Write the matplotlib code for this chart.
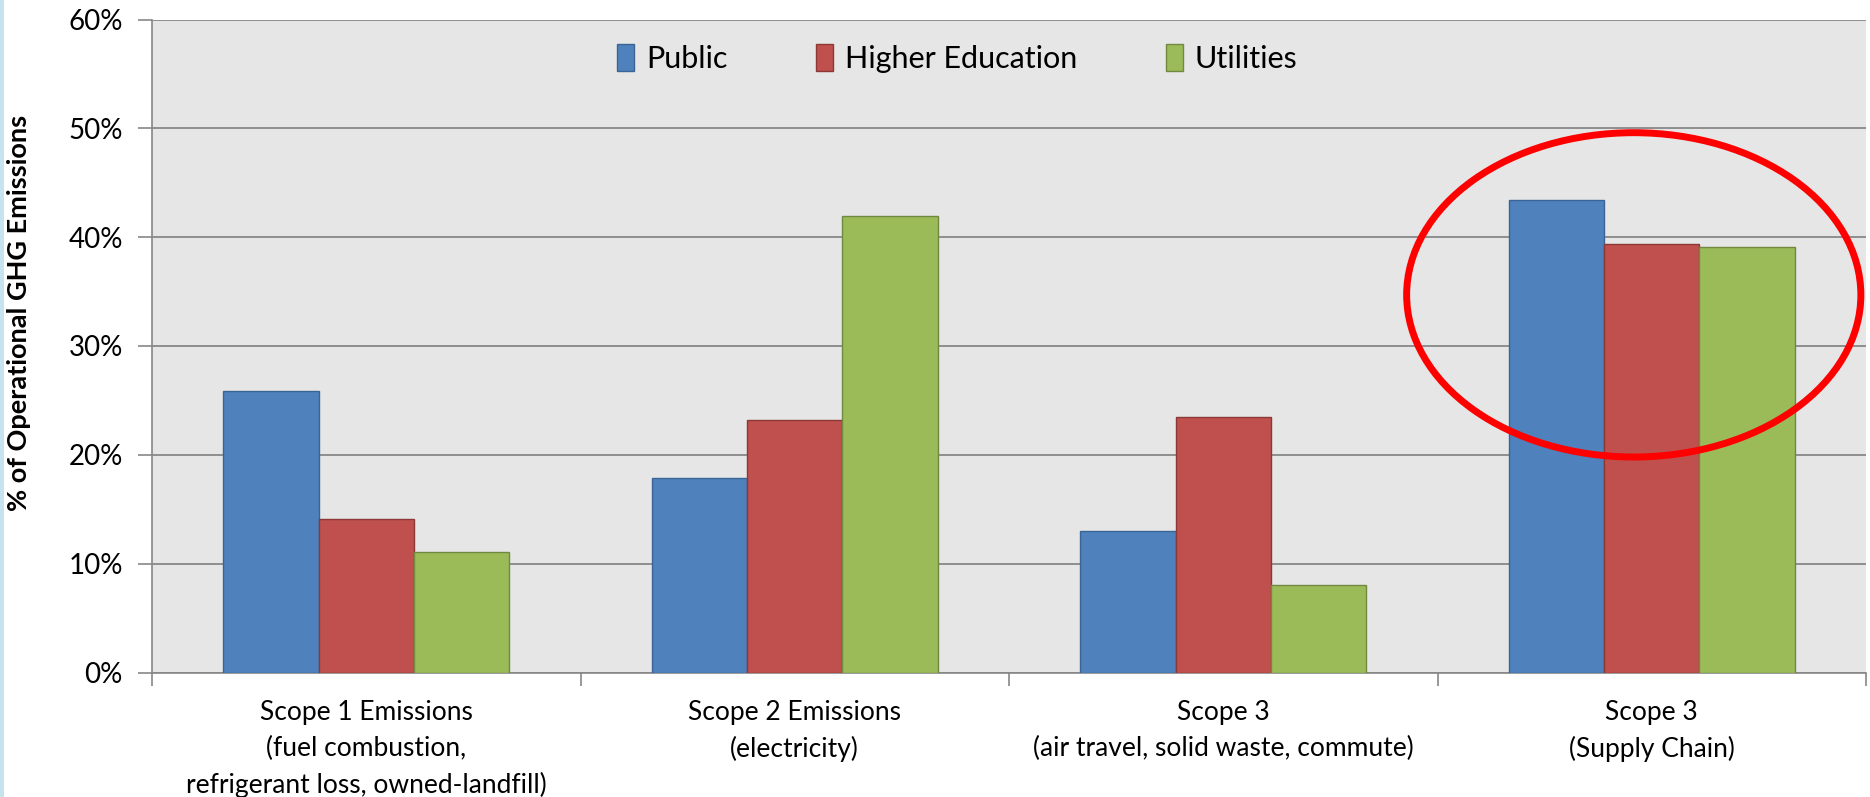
import matplotlib
matplotlib.use("Agg")
import matplotlib.pyplot as plt
from matplotlib.patches import Ellipse, Rectangle
from matplotlib.ticker import FixedLocator, PercentFormatter
import numpy as np

plt.rcParams['font.family'] = ['Lato', 'DejaVu Sans']

categories = [
    "Scope 1 Emissions\n(fuel combustion,\nrefrigerant loss, owned-landfill)",
    "Scope 2 Emissions\n(electricity)",
    "Scope 3\n(air travel, solid waste, commute)",
    "Scope 3\n(Supply Chain)",
]
series_names = ["Public", "Higher Education", "Utilities"]
public = [25.9, 17.9, 13.0, 43.4]
higher_education = [14.1, 23.2, 23.45, 39.4]
utilities = [11.1, 41.9, 8.0, 39.1]
y_ticks = [0, 10, 20, 30, 40, 50, 60]

fills = ["#4f81bd", "#c0504d", "#9bbb59"]
edges = ["#3a6396", "#8c3836", "#71893f"]

W, H = 1870, 797
fig = plt.figure(figsize=(W / 100, H / 100), dpi=100)
fig.patch.set_facecolor("white")
ax = fig.add_axes([152 / W, 1 - 672.5 / H, (1866 - 152) / W, (672.5 - 19.5) / H])
ax.set_facecolor("#e6e6e6")

# thin light-blue strip along the left edge of the slide
fig.patches.append(Rectangle((0, 0), 4 / W, 1, transform=fig.transFigure,
                             facecolor="#c6e4ee", edgecolor="none", zorder=0))

x = np.arange(len(categories))
w = 1 / 4.5
for i, (vals, name) in enumerate(zip([public, higher_education, utilities], series_names)):
    ax.bar(x + (i - 1) * w, vals, width=w, color=fills[i], edgecolor=edges[i],
           linewidth=1.0, label=name, zorder=3)

ax.set_xlim(-0.5, len(categories) - 0.5)
ax.set_ylim(0, 60)
ax.yaxis.set_major_locator(FixedLocator(y_ticks))
ax.yaxis.set_major_formatter(PercentFormatter(decimals=0))
ax.grid(axis="y", color="#878787", linewidth=1.3, zorder=1)
ax.set_axisbelow(True)

ax.set_xticks(x)
ax.set_xticklabels(categories, fontsize=19, linespacing=1.52)
ax.xaxis.set_minor_locator(FixedLocator(np.arange(-0.5, len(categories), 1.0)))
ax.tick_params(axis="x", which="major", length=0, pad=20)
ax.tick_params(axis="x", which="minor", length=9, width=1.2, color="#878787", direction="out")
ax.tick_params(axis="y", length=10, width=1.2, color="#878787", labelsize=20, pad=11)

for s in ["top", "right"]:
    ax.spines[s].set_visible(False)
for s in ["left", "bottom"]:
    ax.spines[s].set_color("#878787")
    ax.spines[s].set_linewidth(1.2)

ax.set_ylabel("% of Operational GHG Emissions", fontsize=19.5, fontweight="bold",
              va="center")
ax.yaxis.set_label_coords((19 - 152) / 1714, (672.5 - 313) / 653)

leg = ax.legend(loc="center left", bbox_to_anchor=((617 - 152) / 1714, (672.5 - 58.5) / 653),
                ncol=3, frameon=False, borderpad=0, borderaxespad=0,
                fontsize=22, handlelength=0.55, handleheight=0.95, handletextpad=0.4,
                columnspacing=2.9)

# highlight around the supply-chain group
ax.add_patch(Ellipse((2.958, 34.7), 1.06, 29.8, fill=False, edgecolor="#ff0000",
                     linewidth=5, zorder=5, clip_on=False))

fig.savefig("out.png", dpi=100, facecolor="white")
